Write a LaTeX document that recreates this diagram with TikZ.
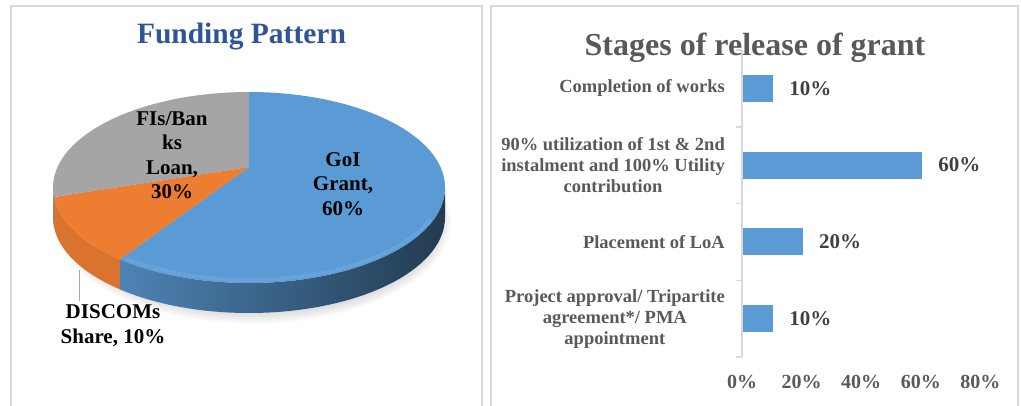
\documentclass[tikz,border=0pt]{standalone}
\usepackage{fontspec}
\setmainfont{Liberation Serif}
\usepackage{tikz}
\usetikzlibrary{positioning}

\definecolor{pieblue}{HTML}{5B9BD5}
\definecolor{pieorange}{HTML}{ED7D31}
\definecolor{piegray}{HTML}{A5A5A5}
\definecolor{titleblue}{HTML}{2F5597}
\definecolor{framegray}{HTML}{D9D9D9}
\definecolor{labelgray}{HTML}{595959}
\definecolor{valgray}{HTML}{404040}

\begin{document}
\begin{tikzpicture}[x=1pt,y=-1pt,
  frame/.style={draw=framegray,line width=1.8pt},
  pielabel/.style={align=center,text=black,font=\bfseries\fontsize{21}{24.5}\selectfont},
  catlabel/.style={align=center,inner sep=0pt,text=labelgray,font=\bfseries\fontsize{18.5}{21}\selectfont},
  bar/.style={fill=pieblue,minimum height=27pt,inner sep=0pt,anchor=west},
  vallabel/.style={inner sep=0pt,text=valgray,font=\bfseries\fontsize{21}{24}\selectfont},
  ticklabel/.style={text=labelgray,font=\bfseries\fontsize{20}{24}\selectfont}]
  \useasboundingbox (0,0) rectangle (1021,405);

  % panel frames
  \draw[frame] (11,410) -- (11,6) -- (482,6) -- (482,410);
  \draw[frame] (491,410) -- (491,6) -- (1018,6) -- (1018,410);

  % 3d pie
  \begin{scope}[shift={(249,187.5)}]
    \foreach \s in {0,2,...,10}
      \fill[black,opacity=0.025] (4,34) ellipse [x radius=188+\s, y radius=92+\s];
    \shade[left color=pieblue!85!black,right color=pieblue!38!black]
      (0:196 and 95.5) arc [start angle=0, end angle=131.2, x radius=196, y radius=95.5]
      -- ++(0,30) arc [start angle=131.2, end angle=0, x radius=196, y radius=95.5] -- cycle;
    \fill[pieorange!92!black]
      (131.2:196 and 95.5) arc [start angle=131.2, end angle=174.3, x radius=196, y radius=95.5]
      -- ++(0,30) arc [start angle=174.3, end angle=131.2, x radius=196, y radius=95.5] -- cycle;
    \fill[piegray!80!black]
      (174.3:196 and 95.5) arc [start angle=174.3, end angle=180, x radius=196, y radius=95.5]
      -- ++(0,30) arc [start angle=180, end angle=174.3, x radius=196, y radius=95.5] -- cycle;
    \fill[pieblue] (0,-20.5) -- (270:196 and 95.5)
      arc [start angle=270, end angle=491.2, x radius=196, y radius=95.5] -- cycle;
    \fill[pieorange] (0,-20.5) -- (131.2:196 and 95.5)
      arc [start angle=131.2, end angle=174.3, x radius=196, y radius=95.5] -- cycle;
    \fill[piegray] (0,-20.5) -- (174.3:196 and 95.5)
      arc [start angle=174.3, end angle=270, x radius=196, y radius=95.5] -- cycle;
    \draw[pieblue!75!white,line width=4pt,opacity=0.3] (20:193 and 92.5)
      arc [start angle=20, end angle=130, x radius=193, y radius=92.5];
  \end{scope}

  \node[anchor=base,text=titleblue,font=\bfseries\fontsize{29.5}{34}\selectfont] (ptitle) at (241.5,43) {Funding Pattern};
  \node[pielabel] (goi) at (343,184) {GoI\\Grant,\\60\%};
  \node[pielabel] (fis) at (172,155) {FIs/Ban\\ks\\Loan,\\30\%};
  \node[pielabel] (discom) at (113,325.5) {DISCOMs\\Share, 10\%};
  \coordinate (lead) at (79,270);
  \draw[black!35,line width=0.8pt] (lead) -- (lead |- discom.north);

  % bar chart
  \draw[framegray,line width=1.5pt] (742,50) -- (742,357);
  \foreach \y in {50,126.75,203.5,280.25,357}
    \draw[framegray,line width=1.5pt] (736,\y) -- (742,\y);
  \node[anchor=base,text=labelgray,font=\bfseries\fontsize{32}{38}\selectfont] (btitle) at (755,55) {Stages of release of grant};

  \foreach \name/\y/\v in {b1/88.4/10, b2/165.1/60, b3/241.9/20, b4/318.6/10} {
    \node[bar,minimum width={2.98pt*\v}] (\name) at (743,\y) {};
    \node[vallabel,right=16pt of \name] (\name v) {\v\%};
  }
  \node[catlabel,left=18pt of b1] (c1) {Completion of works};
  \node[catlabel,left=18pt of b2] (c2) {90\% utilization of 1st \& 2nd\\instalment and 100\% Utility\\contribution};
  \node[catlabel,left=18pt of b3] (c3) {Placement of LoA};
  \node[catlabel,left=18pt of b4] (c4) {Project approval/ Tripartite\\agreement*/ PMA\\appointment};

  \foreach \p [count=\i from 0] in {0,20,40,60,80}
    \node[ticklabel] (t\i) at ({742+2.98*\p},382) {\p\%};
\end{tikzpicture}
\end{document}
